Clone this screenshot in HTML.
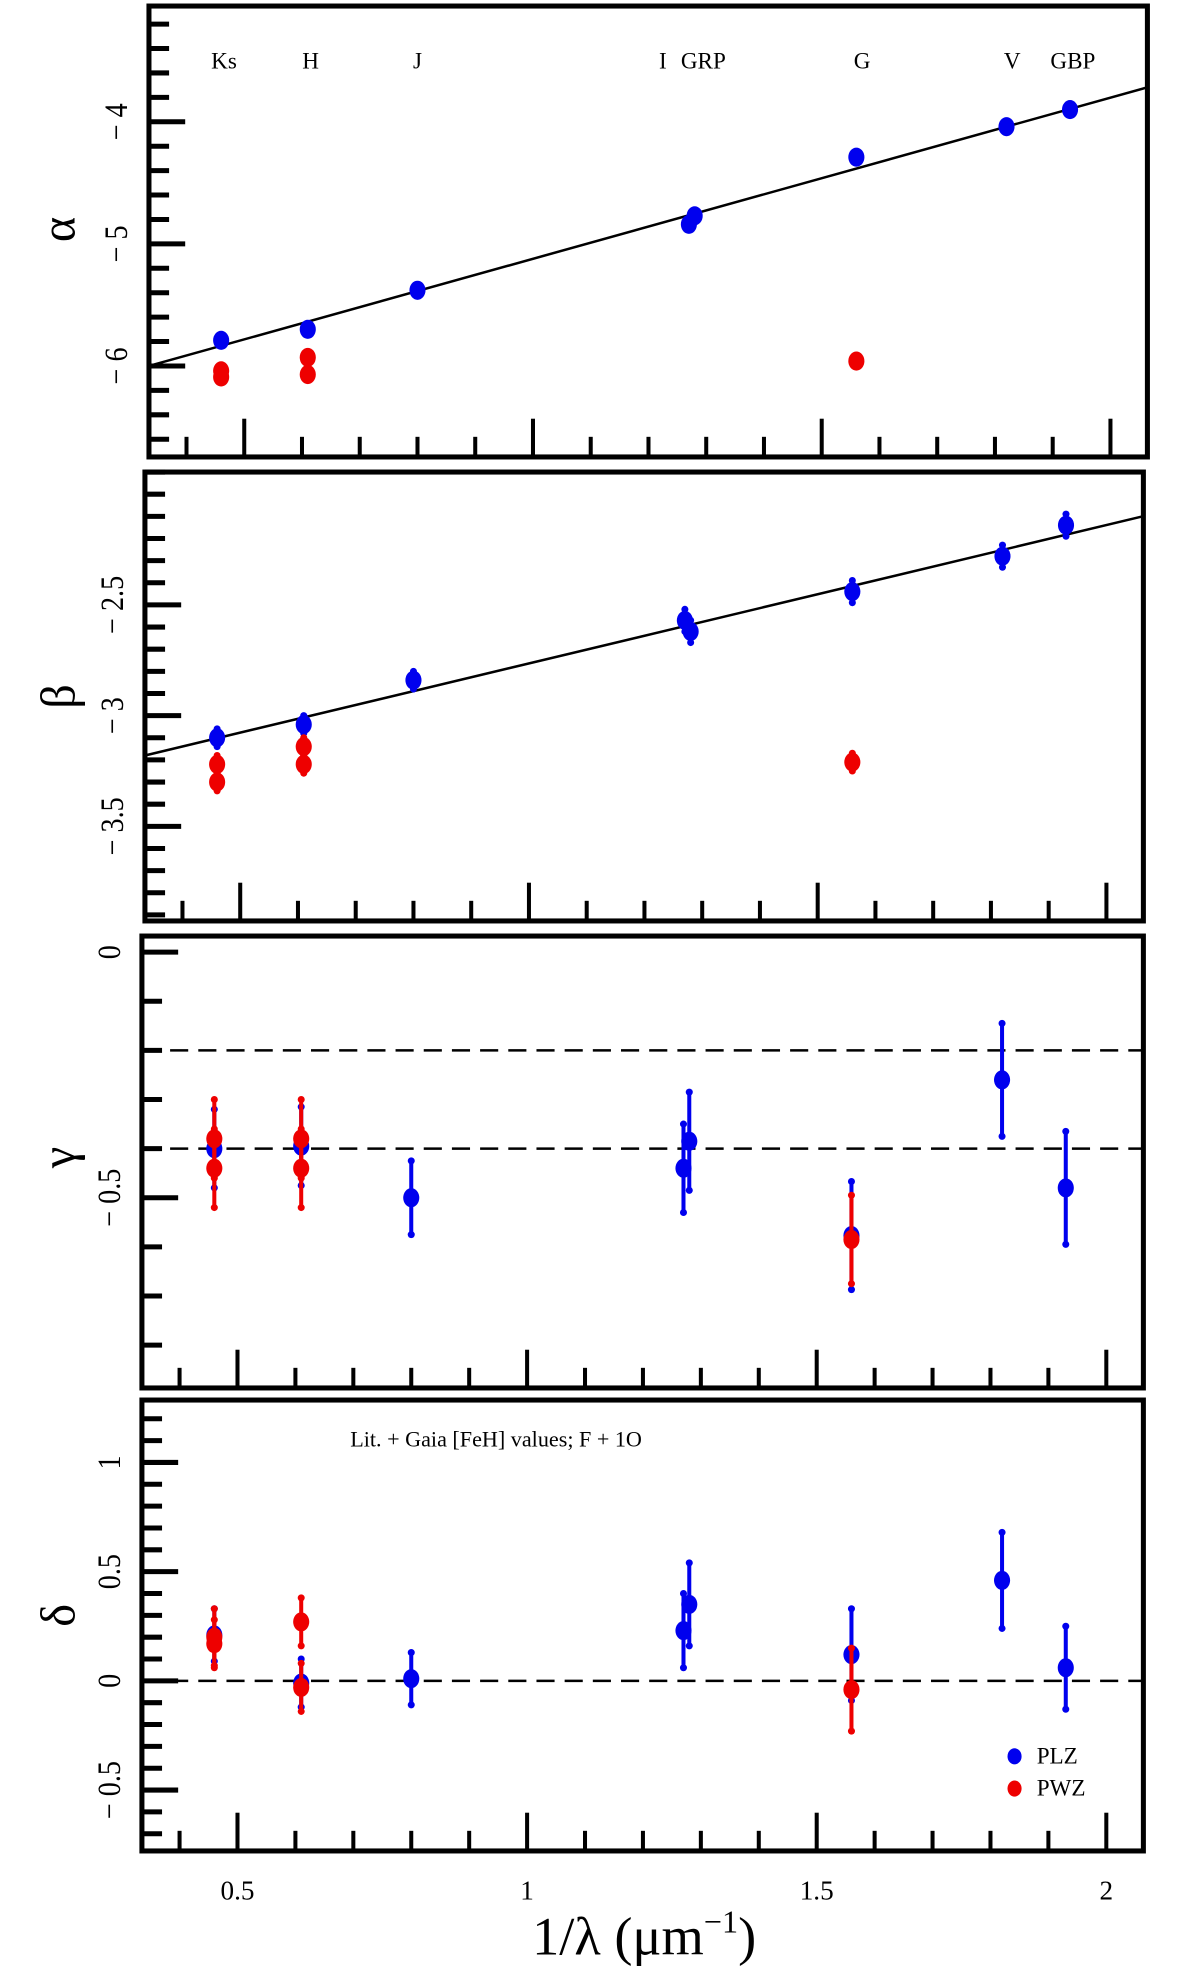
<!DOCTYPE html>
<html><head><meta charset="utf-8"><style>
html,body{margin:0;padding:0;background:#fff}
svg{display:block}
text{font-family:"Liberation Serif",serif;fill:#000}
</style></head><body>
<svg width="1200" height="1972" viewBox="0 0 1200 1972" xmlns="http://www.w3.org/2000/svg"><g id="fig" transform="scale(1.0065)"></g></svg>
<script>
// ---- data ----
const bands = ["Ks","H","J","I","GRP","G","V","GBP"];
const bandX = [0.46,0.61,0.80,1.27,1.28,1.56,1.82,1.93];
const alphaPLZ = [-5.79,-5.70,-5.38,-4.84,-4.77,-4.29,-4.04,-3.90];
const alphaPWZx = [0.46,0.46,0.61,0.61,1.56];
const alphaPWZ = [-6.04,-6.09,-5.93,-6.07,-5.96];
const alphaFit = [-6.0,1.32]; // intercept at x=0.335, slope
const betaPLZ = [-3.10,-3.04,-2.84,-2.57,-2.62,-2.44,-2.28,-2.14];
const betaPLZerr = [0.04,0.04,0.04,0.05,0.05,0.05,0.05,0.05];
const betaPWZx = [0.46,0.46,0.61,0.61,1.56];
const betaPWZ = [-3.22,-3.30,-3.14,-3.22,-3.21];
const betaPWZerr = [0.04,0.04,0.04,0.04,0.04];
const betaFit = [-3.18,0.625];
const gammaPLZ = [-0.40,-0.395,-0.50,-0.44,-0.385,-0.577,-0.26,-0.48];
const gammaPLZerr = [0.08,0.08,0.075,0.09,0.1,0.11,0.115,0.115];
const gammaPWZx = [0.46,0.46,0.61,0.61,1.56];
const gammaPWZ = [-0.38,-0.44,-0.38,-0.44,-0.585];
const gammaPWZerr = [0.08,0.08,0.08,0.08,0.09];
const deltaPLZ = [0.21,-0.01,0.01,0.23,0.35,0.12,0.46,0.06];
const deltaPLZerr = [0.12,0.11,0.12,0.17,0.19,0.21,0.22,0.19];
const deltaPWZx = [0.46,0.46,0.61,0.61,1.56];
const deltaPWZ = [0.20,0.17,0.27,-0.03,-0.04];
const deltaPWZerr = [0.13,0.11,0.11,0.11,0.19];
const xTickLabels = ["0.5","1","1.5","2"];
const xTickVals = [0.5,1,1.5,2];

const NS="http://www.w3.org/2000/svg";
const svg=document.getElementById('fig');
function mk(tag,attrs,parent){const e=document.createElementNS(NS,tag);for(const k in attrs)e.setAttribute(k,attrs[k]);(parent||svg).appendChild(e);return e;}
const X0=0.335,X1=2.064;
const panels=[
 {name:"alpha",L:148,R:1140,T:6,B:454,y0v:-4,y0p:121,ppu:121.3,ymin:-6.74,ymax:-3.05,minor:0.2,labels:[-4,-5,-6],lab:"α",labY:228},
 {name:"beta",L:144,R:1136,T:469,B:915,y0v:-2.5,y0p:601,ppu:220,ymin:-3.93,ymax:-1.9,minor:0.1,labels:[-2.5,-3,-3.5],lab:"β",labY:692},
 {name:"gamma",L:141,R:1136,T:930,B:1379,y0v:0,y0p:946,ppu:488,ymin:-0.887,ymax:0.033,minor:0.1,labels:[0,-0.5],lab:"γ",labY:1150},
 {name:"delta",L:141,R:1136,T:1391,B:1839,y0v:0,y0p:1670,ppu:217,ymin:-0.78,ymax:1.28,minor:0.1,labels:[1,0.5,0,-0.5],lab:"δ",labY:1605}
];
panels.forEach(p=>{p.sx=v=>p.L+(v-X0)/(X1-X0)*(p.R-p.L);p.sy=v=>p.y0p-(v-p.y0v)*p.ppu;});
function fmt(v){return v<0?"− "+String(-v):String(v);}
function drawPanel(p){
 const g=mk('g',{});
 
 
 const n0=Math.ceil(p.ymin/p.minor-1e-6),n1=Math.floor(p.ymax/p.minor+1e-6);
 for(let i=n0;i<=n1;i++){const v=i*p.minor;const y=p.sy(v);
  const major=p.labels.some(l=>Math.abs(l-v)<1e-6);
  const t=mk('line',{x1:p.L,x2:p.L+(major?36:20),y1:y,y2:y,stroke:'#000','stroke-width':5},g);
  }
 p.labels.forEach(v=>{const y=p.sy(v);
  const t=mk('text',{x:0,y:0,'font-size':28,'text-anchor':'middle',transform:`translate(${p.L-22},${y}) rotate(-90) scale(1,1.15)`},g);
  t.textContent=fmt(v);});
 for(let i=4;i<=20;i++){const v=i/10;const x=p.sx(v);const major=(i%5===0);
  const t=mk('line',{x1:x,x2:x,y1:p.B,y2:p.B-(major?38:20),stroke:'#000','stroke-width':4},g);
  }
 const yl=mk('text',{x:0,y:0,'font-size':48,'text-anchor':'middle',transform:`translate(74,${p.labY}) rotate(-90)`},g);
 yl.textContent=p.lab;
 const fr=mk('rect',{x:p.L,y:p.T,width:p.R-p.L,height:p.B-p.T,fill:'none',stroke:'#000','stroke-width':5},g);
 
 return g;
}
function fitLine(p,fit,g){const ln=mk('line',{x1:p.L,y1:p.sy(fit[0]),x2:p.R,y2:p.sy(fit[0]+fit[1]*(X1-X0)),stroke:'#000','stroke-width':2.5},g);
 }
function dashLine(p,v,g){const ln=mk('line',{x1:p.L,y1:p.sy(v),x2:p.R,y2:p.sy(v),stroke:'#000','stroke-width':2.5,'stroke-dasharray':'18,10'},g);
 }
function pts(p,xs,ys,errs,color,name,g){xs.forEach((xv,i)=>{const x=p.sx(xv),y=p.sy(ys[i]);
 if(errs){const e=errs[i];
  const eb=mk('line',{x1:x,x2:x,y1:p.sy(ys[i]+e),y2:p.sy(ys[i]-e),stroke:color,'stroke-width':4},g);
  
  [ys[i]+e,ys[i]-e].forEach(v=>{const c=mk('circle',{cx:x,cy:p.sy(v),r:3.5,fill:color},g);
   });}
 const m=mk('ellipse',{cx:x,cy:y,rx:8,ry:9.5,fill:color},g);
 });}

const gA=drawPanel(panels[0]);
fitLine(panels[0],alphaFit,gA);
pts(panels[0],bandX,alphaPLZ,null,'#0000ee','plz',gA);
pts(panels[0],alphaPWZx,alphaPWZ,null,'#ee0000','pwz',gA);
const bandPos=[0.465,0.615,0.80,1.225,1.295,1.57,1.83,1.935];
const bandTxt=["Ks","H","J","I","GRP","G","V","GBP"];
bandTxt.forEach((b,i)=>{const t=mk('text',{x:panels[0].sx(bandPos[i]),y:68,'font-size':23,'text-anchor':'middle'},gA);
 t.textContent=b;});

const gB=drawPanel(panels[1]);
fitLine(panels[1],betaFit,gB);
pts(panels[1],bandX,betaPLZ,betaPLZerr,'#0000ee','plz',gB);
pts(panels[1],betaPWZx,betaPWZ,betaPWZerr,'#ee0000','pwz',gB);

const gC=drawPanel(panels[2]);
dashLine(panels[2],-0.2,gC);dashLine(panels[2],-0.4,gC);
pts(panels[2],bandX,gammaPLZ,gammaPLZerr,'#0000ee','plz',gC);
pts(panels[2],gammaPWZx,gammaPWZ,gammaPWZerr,'#ee0000','pwz',gC);

const gD=drawPanel(panels[3]);
dashLine(panels[3],0,gD);
pts(panels[3],bandX,deltaPLZ,deltaPLZerr,'#0000ee','plz',gD);
pts(panels[3],deltaPWZx,deltaPWZ,deltaPWZerr,'#ee0000','pwz',gD);
const ann=mk('text',{x:348,y:1437,'font-size':22},gD);ann.textContent="Lit. + Gaia [FeH] values; F + 1O";

[["PLZ",'#0000ee',1752],["PWZ",'#ee0000',1784]].forEach(l=>{
 const m=mk('ellipse',{cx:1008,cy:l[2]-7,rx:7,ry:8,fill:l[1]},gD);
 
 const t=mk('text',{x:1030,y:l[2],'font-size':23},gD);t.textContent=l[0];
 });
xTickVals.forEach((v,i)=>{const t=mk('text',{x:panels[3].sx(v),y:1887,'font-size':27,'text-anchor':'middle'});
 t.textContent=xTickLabels[i];});
const xt=mk('text',{x:640,y:1942,'font-size':54,'text-anchor':'middle'});
xt.innerHTML='1/λ (μm<tspan font-size="32" dy="-22">−1</tspan><tspan dy="22">)</tspan>';

</script>
</body></html>
